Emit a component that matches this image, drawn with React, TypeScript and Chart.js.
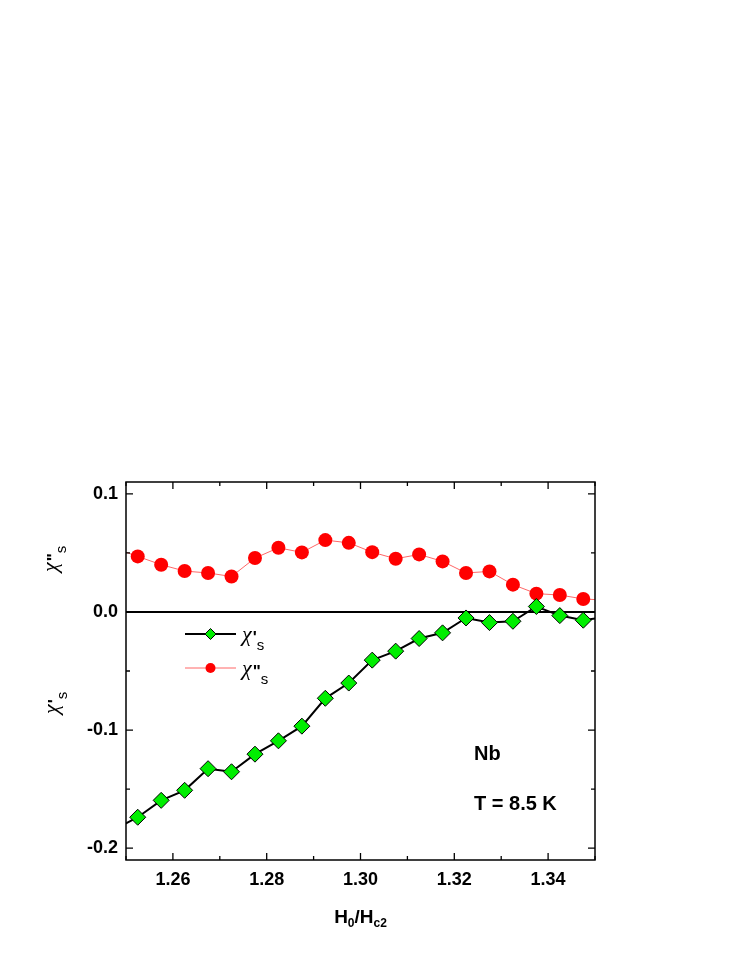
import React, { useEffect, useRef } from "react";
import { Chart, registerables } from "chart.js";

Chart.register(...registerables);

const xValues = [1.2475, 1.2525, 1.2575, 1.2625, 1.2675, 1.2725, 1.2775, 1.2825, 1.2875, 1.2925, 1.2975, 1.3025, 1.3075, 1.3125, 1.3175, 1.3225, 1.3275, 1.3325, 1.3375, 1.3425, 1.3475, 1.3525];
const chiPrime = [-0.184, -0.1738, -0.1595, -0.151, -0.1327, -0.1353, -0.1204, -0.1091, -0.0967, -0.0731, -0.0602, -0.0408, -0.0332, -0.0225, -0.0177, -0.0051, -0.009, -0.0079, 0.0046, -0.0031, -0.007, -0.004];
const chiDouble = [0.054, 0.047, 0.04, 0.0346, 0.033, 0.03, 0.0456, 0.0543, 0.0504, 0.0608, 0.0585, 0.0506, 0.045, 0.0487, 0.0428, 0.033, 0.0343, 0.0231, 0.0155, 0.0143, 0.011, 0.0099];

const xMajorTicks = [1.26, 1.28, 1.3, 1.32, 1.34];
const xMinorTicks = [1.25, 1.27, 1.29, 1.31, 1.33, 1.35];
const yMajorTicks = [-0.2, -0.1, 0.0, 0.1];
const yMinorTicks = [-0.15, -0.05, 0.05];

const GREEN = "#00ee00";
const RED = "#ff0000";
const RED_LINE = "rgba(255,0,0,0.6)";
const SANS = "'Liberation Sans', Arial, sans-serif";
const SERIF = "'Liberation Serif', 'DejaVu Serif', serif";

function drawChi(ctx: CanvasRenderingContext2D, x: number, y: number, prime: string) {
  ctx.textAlign = "left";
  ctx.textBaseline = "alphabetic";
  ctx.font = `italic 22px ${SERIF}`;
  ctx.fillText("\u03C7", x, y);
  let cx = x + ctx.measureText("\u03C7").width + 1;
  ctx.font = `bold 17px ${SANS}`;
  ctx.fillText(prime, cx, y + 2);
  cx += ctx.measureText(prime).width;
  ctx.font = `15px ${SANS}`;
  ctx.fillText("s", cx, y + 9);
}

const decorations = {
  id: "decorations",
  beforeDatasetsDraw(chart: any) {
    const { ctx, chartArea } = chart;
    const y = chart.scales.y;
    ctx.save();
    ctx.strokeStyle = "#000";
    ctx.lineWidth = 2;
    const y0 = y.getPixelForValue(0);
    ctx.beginPath();
    ctx.moveTo(chartArea.left, y0);
    ctx.lineTo(chartArea.right, y0);
    ctx.stroke();
    ctx.restore();
  },
  afterDraw(chart: any) {
    const { ctx, chartArea } = chart;
    const xs = chart.scales.x;
    const ys = chart.scales.y;
    const { left, right, top, bottom } = chartArea;
    ctx.save();
    ctx.strokeStyle = "#000";
    ctx.fillStyle = "#000";
    // frame
    ctx.lineWidth = 1.5;
    ctx.strokeRect(left, top, right - left, bottom - top);
    // ticks (inward)
    ctx.lineWidth = 1.3;
    const major = 7;
    const minor = 4;
    ctx.beginPath();
    const xt = (v: number, len: number) => {
      const px = xs.getPixelForValue(v);
      ctx.moveTo(px, bottom);
      ctx.lineTo(px, bottom - len);
      ctx.moveTo(px, top);
      ctx.lineTo(px, top + len);
    };
    const yt = (v: number, len: number) => {
      const py = ys.getPixelForValue(v);
      ctx.moveTo(left, py);
      ctx.lineTo(left + len, py);
      ctx.moveTo(right, py);
      ctx.lineTo(right - len, py);
    };
    xMajorTicks.forEach((v) => xt(v, major));
    xMinorTicks.forEach((v) => xt(v, minor));
    yMajorTicks.forEach((v) => yt(v, major));
    yMinorTicks.forEach((v) => yt(v, minor));
    ctx.stroke();

    // legend
    const lx = left + 59;
    const lw = 51;
    const r1 = top + 152;
    const r2 = top + 186;
    ctx.strokeStyle = "#000";
    ctx.lineWidth = 2;
    ctx.beginPath();
    ctx.moveTo(lx, r1);
    ctx.lineTo(lx + lw, r1);
    ctx.stroke();
    const mx = lx + lw / 2;
    const d = 5.5;
    ctx.beginPath();
    ctx.moveTo(mx, r1 - d);
    ctx.lineTo(mx + d, r1);
    ctx.lineTo(mx, r1 + d);
    ctx.lineTo(mx - d, r1);
    ctx.closePath();
    ctx.fillStyle = GREEN;
    ctx.fill();
    ctx.lineWidth = 1;
    ctx.stroke();
    ctx.strokeStyle = RED_LINE;
    ctx.lineWidth = 1;
    ctx.beginPath();
    ctx.moveTo(lx, r2);
    ctx.lineTo(lx + lw, r2);
    ctx.stroke();
    ctx.fillStyle = RED;
    ctx.beginPath();
    ctx.arc(mx, r2, 5, 0, Math.PI * 2);
    ctx.fill();
    ctx.fillStyle = "#000";
    drawChi(ctx, lx + lw + 6, r1 + 7, "'");
    drawChi(ctx, lx + lw + 6, r2 + 7, "\"");

    // annotations
    ctx.font = `bold 20px ${SANS}`;
    ctx.textAlign = "left";
    ctx.textBaseline = "alphabetic";
    ctx.fillText("Nb", left + 348, top + 278);
    ctx.fillText("T = 8.5 K", left + 348, top + 328);

    // x title H0/Hc2
    const cx = (left + right) / 2;
    ctx.font = `bold 19px ${SANS}`;
    const hW = ctx.measureText("H").width;
    const slashW = ctx.measureText("/").width;
    ctx.font = `bold 12px ${SANS}`;
    const s0W = ctx.measureText("0").width;
    const sc2W = ctx.measureText("c2").width;
    const total = hW * 2 + slashW + s0W + sc2W;
    let tx = cx - total / 2;
    const base = bottom + 63;
    ctx.font = `bold 19px ${SANS}`;
    ctx.fillText("H", tx, base);
    tx += hW;
    ctx.font = `bold 12px ${SANS}`;
    ctx.fillText("0", tx, base + 4);
    tx += s0W;
    ctx.font = `bold 19px ${SANS}`;
    ctx.fillText("/", tx, base);
    tx += slashW;
    ctx.fillText("H", tx, base);
    tx += hW;
    ctx.font = `bold 12px ${SANS}`;
    ctx.fillText("c2", tx, base + 4);

    // y titles (rotated)
    const drawRot = (px: number, py: number, prime: string) => {
      ctx.save();
      ctx.translate(px, py);
      ctx.rotate(-Math.PI / 2);
      drawChi(ctx, 0, 0, prime);
      ctx.restore();
    };
    drawRot(57, 572, "\"");
    drawRot(58, 714, "'");
    ctx.restore();
  },
};

export default function App() {
  const ref = useRef<HTMLCanvasElement | null>(null);
  useEffect(() => {
    if (!ref.current) return;
    const chart = new Chart(ref.current, {
      type: "line",
      data: {
        datasets: [
          {
            label: "chi' s",
            data: xValues.map((x, i) => ({ x, y: chiPrime[i] })),
            borderColor: "#000",
            borderWidth: 2,
            backgroundColor: GREEN,
            pointStyle: "rectRot",
            pointRadius: 8,
            pointBorderColor: "#000",
            pointBorderWidth: 1,
            pointBackgroundColor: GREEN,
            tension: 0,
            clip: 0,
          },
          {
            label: "chi'' s",
            data: xValues.map((x, i) => ({ x, y: chiDouble[i] })),
            borderColor: RED_LINE,
            borderWidth: 1,
            backgroundColor: RED,
            pointStyle: "circle",
            pointRadius: 7,
            pointBorderWidth: 0,
            pointBackgroundColor: RED,
            tension: 0,
            clip: 0,
          },
        ],
      },
      options: {
        animation: false,
        responsive: false,
        devicePixelRatio: 1,
        layout: { padding: { top: 482, right: 152, left: 0, bottom: 0 } },
        plugins: { legend: { display: false }, tooltip: { enabled: false } },
        scales: {
          x: {
            type: "linear",
            min: 1.25,
            max: 1.35,
            grid: { display: false, drawTicks: false },
            border: { display: false },
            afterBuildTicks: (s: any) => {
              s.ticks = xMajorTicks.map((v) => ({ value: v }));
            },
            afterFit: (s: any) => {
              s.height = 107;
            },
            ticks: {
              color: "#000",
              font: { family: SANS, size: 18, weight: "bold" },
              padding: 9,
              maxRotation: 0,
              callback: (v: any) => Number(v).toFixed(2),
            },
          },
          y: {
            type: "linear",
            min: -0.21,
            max: 0.11,
            grid: { display: false, drawTicks: false },
            border: { display: false },
            afterBuildTicks: (s: any) => {
              s.ticks = yMajorTicks.map((v) => ({ value: v }));
            },
            afterFit: (s: any) => {
              s.width = 126;
            },
            ticks: {
              color: "#000",
              font: { family: SANS, size: 18, weight: "bold" },
              padding: 8,
              callback: (v: any) => Number(v).toFixed(1),
            },
          },
        },
      },
      plugins: [decorations],
    });
    return () => chart.destroy();
  }, []);
  return (
    <div style={{ position: "absolute", left: 0, top: 0, width: 747, height: 967, background: "#fff" }}>
      <canvas ref={ref} width={747} height={967} style={{ width: 747, height: 967, display: "block" }} />
    </div>
  );
}
